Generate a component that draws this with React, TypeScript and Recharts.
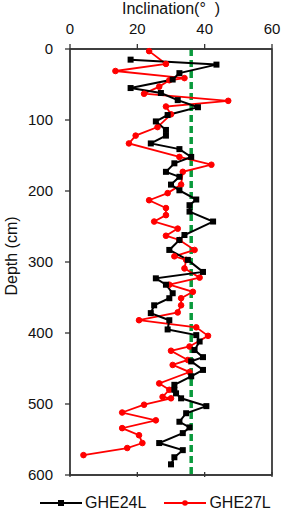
import React from 'react';
import { LineChart, Line, XAxis, YAxis, ReferenceLine, ReferenceArea } from 'recharts';

// GHE24L – depth (cm) and inclination (deg)
const depth24 = [15, 22, 34, 43, 55, 62, 72, 82, 93, 102, 114, 122, 133, 141, 152, 161, 173, 180, 191, 199, 212, 220, 229, 243, 262, 269, 283, 297, 314, 323, 332, 344, 351, 361, 372, 382, 395, 403, 412, 424, 434, 440, 452, 461, 473, 480, 485, 492, 503, 513, 525, 533, 541, 555, 565, 575, 585];
const incl24 = [18, 43.5, 32.5, 30.5, 18, 27, 32, 38, 29, 25.5, 28.5, 28.5, 24, 32.5, 36, 31, 28.5, 32.5, 30, 32.5, 37.5, 35.5, 35.5, 42.5, 34, 32.5, 29.5, 35, 39.5, 25.5, 28.5, 30.5, 29.5, 25, 24, 29.5, 29, 37.5, 38.5, 37, 39.5, 36, 39.5, 36, 31, 31, 31.5, 33, 40.5, 34.5, 32.5, 35.5, 33.5, 26.5, 33.5, 31, 30];

// GHE27L
const depth27 = [3, 21, 31, 41, 44, 53, 63, 73, 81, 92, 110, 122, 133, 152, 163, 173, 191, 203, 213, 224, 234, 243, 253, 263, 269, 283, 292, 297, 309, 322, 332, 342, 351, 361, 371, 382, 392, 404, 419, 425, 438, 445, 455, 471, 480, 490, 492, 501, 512, 523, 534, 544, 555, 562, 572];
const incl27 = [23.5, 28.5, 13.5, 34, 29.5, 26.5, 22, 47, 28.5, 30, 26, 19.5, 17.5, 32.5, 42, 33.5, 33, 29, 23.5, 28.5, 28.5, 25, 32, 28.5, 32.5, 37, 31, 34.5, 34, 38.5, 29.5, 36.5, 33, 33, 32, 20.5, 37.5, 41, 35.5, 30, 35, 30.5, 35.5, 26.5, 29.5, 27.5, 30, 22, 15.5, 25.5, 15.5, 20.5, 21.5, 17, 4];

const inclTicks = [0, 20, 40, 60];
const depthTicks = [0, 100, 200, 300, 400, 500, 600];
const criticalAngle = 36;

const toRows = (depths: number[], values: number[]) =>
  depths.map((depth, i) => ({ depth, incl: values[i] }));

const rows24 = toRows(depth24, incl24);
const rows27 = toRows(depth27, incl27);

const FONT = '"Liberation Sans", Arial, sans-serif';
const AXIS = '#333';

const SquareDot = (props: any) => {
  const { cx, cy, index } = props;
  if (cx == null || cy == null) return null;
  return <rect key={`sq-${index}`} x={cx - 3} y={cy - 3} width={6} height={6} fill="#000" />;
};

const TopTitle = (props: any) => {
  const vb = props.viewBox || {};
  return (
    <text x={vb.x + vb.width / 2} y={vb.y + 14} textAnchor="middle" fontSize={16} fill="#111" fontFamily={FONT} style={{ whiteSpace: 'pre' }}>
      {'Inclination(°  )'}
    </text>
  );
};

const DepthTitle = (props: any) => {
  const vb = props.viewBox || {};
  const cx = vb.x + 11;
  const cy = vb.y + vb.height / 2 - 6;
  return (
    <text x={cx} y={cy} transform={`rotate(-90, ${cx}, ${cy})`} textAnchor="middle" dominantBaseline="central" fontSize={16} fill="#111" fontFamily={FONT}>
      Depth (cm)
    </text>
  );
};

// bottom frame: ticks point up into the plot, no labels
const InwardTick = (props: any) => {
  const { x, y } = props;
  return <line x1={x} x2={x} y1={y} y2={y - 5} stroke={AXIS} strokeWidth={1.3} />;
};

const LegendItem = ({ color, label, square }: { color: string; label: string; square?: boolean }) => (
  <div style={{ display: 'flex', alignItems: 'center' }}>
    <svg width={42} height={12}>
      <line x1={0} x2={42} y1={6} y2={6} stroke={color} strokeWidth={2} />
      {square ? <rect x={18} y={3} width={6} height={6} fill={color} /> : <circle cx={21} cy={6} r={2.8} fill={color} />}
    </svg>
    <span style={{ marginLeft: 3, fontSize: 16, color: '#111' }}>{label}</span>
  </div>
);

export default function App() {
  return (
    <div style={{ position: 'absolute', left: 0, top: 0, width: 284, height: 511, background: '#fff', fontFamily: FONT }}>
      <LineChart
        width={284}
        height={492}
        layout="vertical"
        margin={{ top: 0, right: 11, left: 0, bottom: 16 }}
      >
        <XAxis
          xAxisId="top"
          orientation="top"
          type="number"
          dataKey="incl"
          domain={[0, 60]}
          ticks={inclTicks}
          interval={0}
          height={49}
          tickSize={5}
          tickMargin={10}
          stroke={AXIS}
          strokeWidth={1.3}
          tick={{ fill: '#111', fontSize: 15, fontFamily: FONT }}
          label={<TopTitle />}
        />
        <XAxis
          xAxisId="bottom"
          orientation="bottom"
          type="number"
          domain={[0, 60]}
          allowDataOverflow
          ticks={inclTicks}
          interval={0}
          height={1}
          tickSize={0}
          tickLine={false}
          stroke={AXIS}
          strokeWidth={1.3}
          tick={<InwardTick />}
        />
        <YAxis
          type="number"
          dataKey="depth"
          domain={[0, 600]}
          ticks={depthTicks}
          interval={0}
          width={70}
          tickSize={5}
          tickMargin={12}
          stroke={AXIS}
          strokeWidth={1.3}
          tick={{ fill: '#111', fontSize: 15, fontFamily: FONT }}
          label={<DepthTitle />}
        />
        <YAxis
          yAxisId="right"
          orientation="right"
          type="number"
          domain={[0, 600]}
          allowDataOverflow
          width={1}
          tick={false}
          tickLine={false}
          stroke={AXIS}
          strokeWidth={1.3}
        />
        <ReferenceArea
          xAxisId="top"
          x1={0}
          x2={60}
          y1={0}
          y2={600}
          fill="none"
          fillOpacity={0}
          stroke={AXIS}
          strokeWidth={1.3}
          ifOverflow="visible"
        />
        <ReferenceLine
          xAxisId="top"
          x={criticalAngle}
          stroke="#0a9a3c"
          strokeWidth={3.5}
          strokeDasharray="7 4"
        />
        <Line
          xAxisId="top"
          data={rows27}
          dataKey="incl"
          name="GHE27L"
          stroke="#ff0000"
          strokeWidth={1.8}
          dot={{ r: 2.8, fill: '#ff0000', stroke: '#ff0000', strokeWidth: 1 }}
          isAnimationActive={false}
        />
        <Line
          xAxisId="top"
          data={rows24}
          dataKey="incl"
          name="GHE24L"
          stroke="#000"
          strokeWidth={2}
          dot={<SquareDot />}
          isAnimationActive={false}
        />
      </LineChart>
      <div style={{ position: 'absolute', top: 494, left: 40, display: 'flex', gap: 0 }}>
        <LegendItem color="#000" label="GHE24L" square />
        <div style={{ width: 18 }} />
        <LegendItem color="#ff0000" label="GHE27L" />
      </div>
    </div>
  );
}
